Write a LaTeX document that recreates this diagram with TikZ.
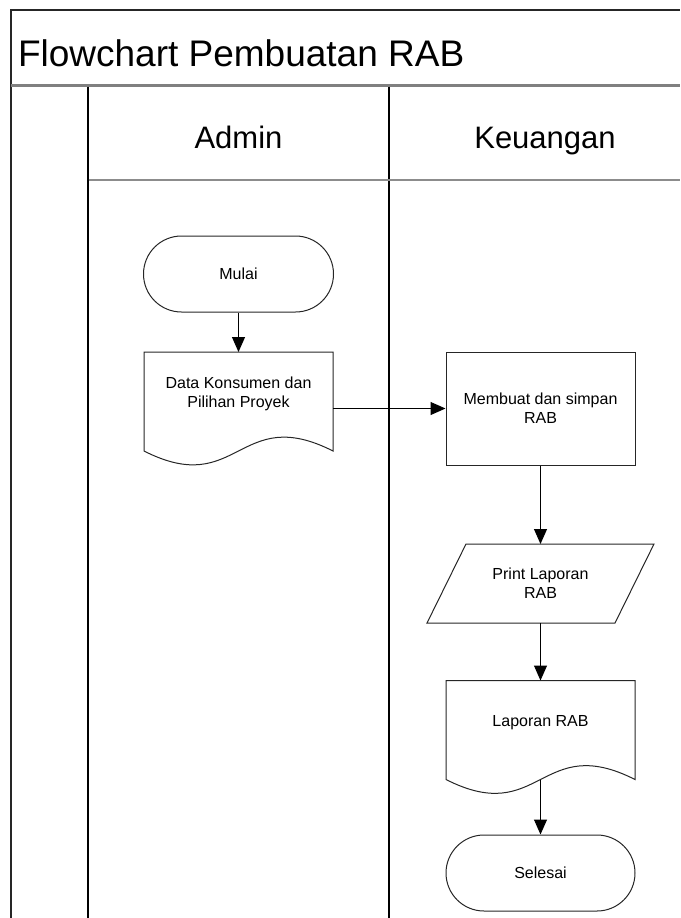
\documentclass[tikz,border=0pt]{standalone}
\usepackage{fontspec}
\setmainfont{Liberation Sans}
\usetikzlibrary{arrows.meta,calc,shapes.misc}
\tikzset{
  frame/.style={draw=black!85, line width=1.3pt},
  sep/.style={draw=black!50, line width=3pt},
  hsep/.style={draw=black!45, line width=1.4pt},
  lane/.style={draw=black, line width=1.3pt},
  shp/.style={draw=black!85, line width=1pt},
  inv/.style={inner sep=0pt, outer sep=0pt},
  term/.style={shp, rounded rectangle, minimum width=190pt, minimum height=76pt, inner sep=0pt, font=\fontsize{16}{19}\selectfont},
  procbox/.style={shp, rectangle, minimum width=189pt, minimum height=113pt, inner sep=0pt, align=center, font=\fontsize{16}{19}\selectfont},
  txt/.style={inner sep=0pt, align=center, font=\fontsize{16}{19}\selectfont},
  hdr/.style={inner sep=0pt, anchor=base, font=\fontsize{31}{36}\selectfont},
  flow/.style={draw=black, line width=1pt, -{Triangle[length=15pt,width=13pt]}},
}
\newcommand{\docpath}[1]{%
  \draw[shp] (#1.north west) -- (#1.south west)
    .. controls ($(#1.south)+(0,48)$) and ($(#1.south)+(0,-48)$) .. (#1.south east)
    -- (#1.north east) -- cycle;}
\begin{document}
\begin{tikzpicture}[x=1pt,y=-1pt]
\useasboundingbox (0,0) rectangle (680,918);
% frame
\draw[frame] (11,918) -- (11,10) -- (680,10);
\draw[sep] (11,85) -- (680,85);
\draw[lane] (88,86.5) -- (88,918);
\draw[lane] (389,86.5) -- (389,918);
\draw[hsep] (88.6,180) -- (680,180);
% texts
\node[inv, anchor=base west, font=\fontsize{37}{42}\selectfont] (title) at (18,66) {Flowchart Pembuatan RAB};
\node[hdr] (hadmin) at (238.5,148) {Admin};
\node[hdr] (hkeu) at (545,148) {Keuangan};
% nodes
\node[term] (mulai) at (238.5,274) {Mulai};
\node[inv, minimum width=189pt, minimum height=99pt] (data) at (238.5,401.5) {};
\docpath{data}
\node[txt] (datat) at (238.5,394) {Data Konsumen dan\\Pilihan Proyek};
\node[procbox] (buat) at (540.5,408.5) {Membuat dan simpan\\RAB};
\node[inv, minimum width=227pt, minimum height=79pt, align=center, font=\fontsize{16}{19}\selectfont] (print) at (540.5,583.5) {Print Laporan\\RAB};
\draw[shp] ($(print.north west)+(39,0)$) -- (print.north east) -- ($(print.south east)+(-39,0)$) -- (print.south west) -- cycle;
\node[inv, minimum width=189pt, minimum height=99pt] (lap) at (540.5,730) {};
\docpath{lap}
\node[txt] (lapt) at (540.5,723) {Laporan RAB};
\node[term, minimum width=189pt] (selesai) at (540.5,873) {Selesai};
% connectors
\draw[flow] (mulai.south) -- (data.north);
\draw[flow] (buat.west -| data.east) -- (buat.west);
\draw[flow] (buat.south) -- (print.north);
\draw[flow] (print.south) -- (lap.north);
\draw[flow] (lap.south) -- (selesai.north);
\end{tikzpicture}
\end{document}
